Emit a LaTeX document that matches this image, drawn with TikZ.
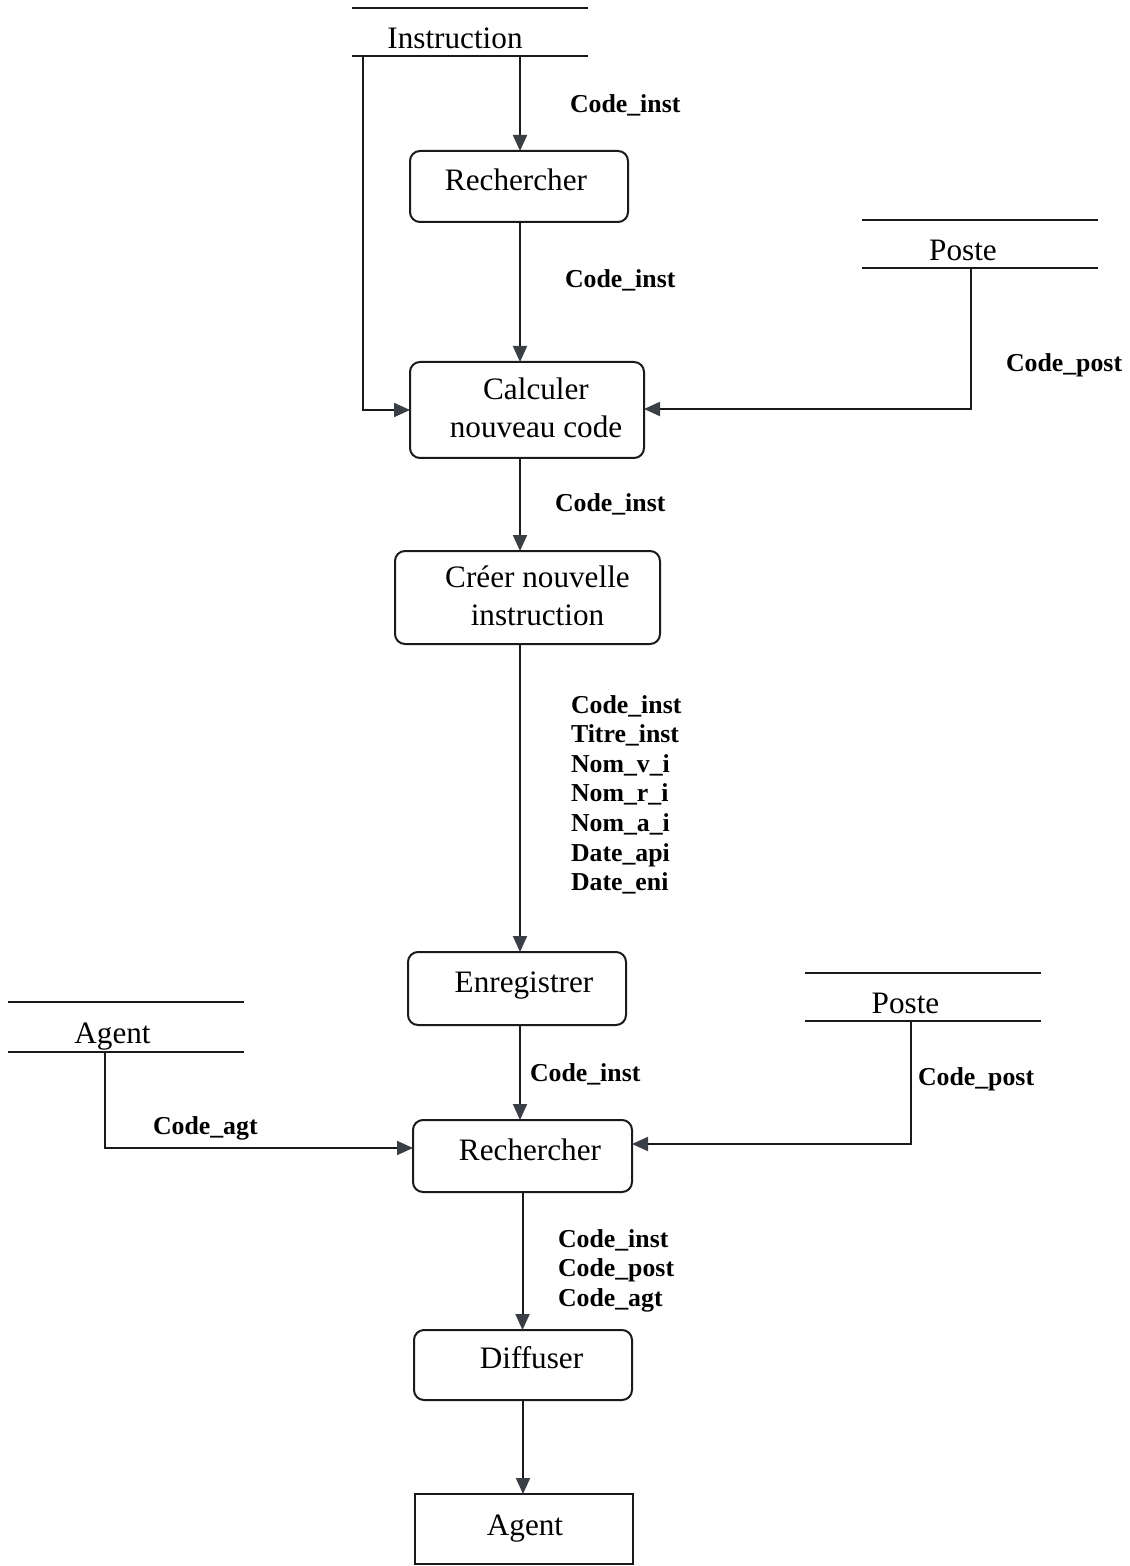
\documentclass[tikz,border=0pt]{standalone}
\usepackage{fontspec}
\setmainfont{Liberation Serif}
\usetikzlibrary{arrows.meta}

\definecolor{tipgray}{HTML}{3A3F45}
\definecolor{ink}{HTML}{1A1A1A}

\begin{document}
\begin{tikzpicture}[x=0.5pt,y=-0.5pt,
  every node/.style={inner sep=0pt, outer sep=0pt},
  mainfont/.style={font=\fontsize{15.6}{19}\selectfont},
  proc/.style={draw=ink, line width=1pt, rounded corners=5pt},
  sink/.style={draw=ink, line width=1pt},
  ptext/.style={mainfont, align=center, anchor=base},
  store/.style={minimum width=118pt, minimum height=24pt},
  storeline/.style={draw=ink, line width=1.1pt},
  flow/.style={draw=ink, line width=1pt, -{Triangle[length=8pt,width=7pt,color=tipgray]}},
  lbl/.style={font=\fontsize{12.9}{14.8}\selectfont\bfseries, align=left, anchor=base west}
]
\useasboundingbox (0,0) rectangle (1129,1566);

% vertical axis of the main flow
\coordinate (spine) at (520,0);

% data stores (two horizontal rules with a name)
\node[store] (inst) at (470,32) {};
\node[ptext] (inst-t) at ([xshift=-7.5pt,yshift=-8.5pt]inst.center) {Instruction};
\node[store] (poste1) at (980,244) {};
\node[ptext] (poste1-t) at ([xshift=-8.5pt,yshift=-8.3pt]poste1.center) {Poste};
\node[store] (poste2) at (922.5,997) {};
\node[ptext] (poste2-t) at ([xshift=-8.5pt,yshift=-8pt]poste2.center) {Poste};
\node[store, minimum height=25pt] (agst) at (125.5,1027) {};
\node[ptext] (agst-t) at ([xshift=-6.5pt,yshift=-8pt]agst.center) {Agent};
\foreach \s in {inst,poste1,poste2,agst}{
  \draw[storeline] (\s.north west) -- (\s.north east)
                   (\s.south west) -- (\s.south east);
}

% processes (frame, then its text placed by baseline)
\node[proc, minimum width=109pt, minimum height=35.5pt] (rech1) at (519,186.5) {};
\node[ptext] (rech1-t) at ([xshift=-1.5pt, yshift=-2.25pt]rech1.center) {Rechercher};
\node[proc, minimum width=117pt, minimum height=48pt] (calc) at (527,410) {};
\node[ptext] (calc-t) at ([xshift=4.5pt, yshift=-14pt]calc.center) {Calculer\\nouveau code};
\node[proc, minimum width=132.5pt, minimum height=46.5pt] (creer) at (527.5,597.5) {};
\node[ptext] (creer-t) at ([xshift=5pt, yshift=-13.75pt]creer.center) {Créer nouvelle\\instruction};
\node[proc, minimum width=109pt, minimum height=36.5pt] (enreg) at (517,988.5) {};
\node[ptext] (enreg-t) at ([xshift=3.5pt, yshift=-1.75pt]enreg.center) {Enregistrer};
\node[proc, minimum width=109.5pt, minimum height=36pt] (rech2) at (522.5,1156) {};
\node[ptext] (rech2-t) at ([xshift=3.75pt, yshift=-2pt]rech2.center) {Rechercher};
\node[proc, minimum width=109pt, minimum height=35pt] (diff) at (523,1365) {};
\node[ptext] (diff-t) at ([xshift=4.25pt, yshift=-1.5pt]diff.center) {Diffuser};
\node[sink, minimum width=109pt, minimum height=35pt] (agent) at (524,1529) {};
\node[ptext] (agent-t) at ([xshift=0.5pt, yshift=-3pt]agent.center) {Agent};

% flows
\draw[flow] (inst.south -| spine) -- (rech1.north -| spine);
\draw[flow] ([xshift=5.5pt]inst.south west) |- (calc.west);
\draw[flow] (rech1.south -| spine) -- (calc.north -| spine);
\draw[flow] ([xshift=-4.5pt]poste1.south) |- ([yshift=0.5pt]calc.east);
\draw[flow] (calc.south -| spine) -- (creer.north -| spine);
\draw[flow] (creer.south -| spine) -- (enreg.north -| spine);
\draw[flow] (enreg.south -| spine) -- (rech2.north -| spine);
\draw[flow] ([xshift=-10.25pt]agst.south) |- ([yshift=4pt]rech2.west);
\draw[flow] ([xshift=-5.75pt]poste2.south) |- ([yshift=6pt]rech2.east);
\draw[flow] (rech2.south) -- (rech2.south |- diff.north);
\draw[flow] (diff.south) -- (diff.south |- agent.north);

% flow labels (multi-line ones are anchored at the baseline of their last line)
\node[lbl] (l1) at (570,113) {Code\_inst};
\node[lbl] (l2) at (565,288) {Code\_inst};
\node[lbl] (l3) at (555,511) {Code\_inst};
\node[lbl] (l4) at (1006,372) {Code\_post};
\node[lbl] (l5) at (571,890.6) {Code\_inst\\Titre\_inst\\Nom\_v\_i\\Nom\_r\_i\\Nom\_a\_i\\Date\_api\\Date\_eni};
\node[lbl] (l6) at (530,1081) {Code\_inst};
\node[lbl] (l7) at (918,1085) {Code\_post};
\node[lbl] (l8) at (153,1134) {Code\_agt};
\node[lbl] (l9) at (558,1306.2) {Code\_inst\\Code\_post\\Code\_agt};
\end{tikzpicture}
\end{document}
